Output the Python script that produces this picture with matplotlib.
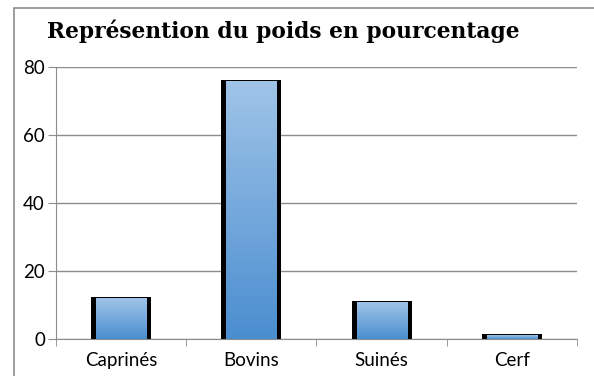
import numpy as np
import matplotlib.pyplot as plt
from matplotlib.patches import Rectangle
from matplotlib.colors import LinearSegmentedColormap

# poids par espèce, en pourcentage
especes = ['Caprinés', 'Bovins', 'Suinés', 'Cerf']
poids = [12.4, 76.2, 11.2, 1.4]
yticks = [0, 20, 40, 60, 80]

plt.rcParams['font.family'] = ['Lato', 'DejaVu Sans']

fig = plt.figure(figsize=(5.94, 3.76), dpi=100)
ax = fig.add_axes([0.0943, 0.0984, 0.877, 0.7234])

# cadre gris autour du graphique
fig.patches.append(Rectangle((0.0236, -0.05), 1.2, 1.03, transform=fig.transFigure,
                             fill=False, edgecolor='#8c8c8c', linewidth=1.2))

x = np.arange(len(especes))
largeur = 0.46

# dégradé vertical : clair en haut, plus foncé en bas
grad = np.linspace(0, 1, 256).reshape(-1, 1)
cmap = LinearSegmentedColormap.from_list('bleu', ['#4a8ed0', '#a0c4e8'])

# bords noirs des barres, puis le dégradé par-dessus
ax.bar(x, poids, width=largeur, color='black', zorder=2)
for xi, h in zip(x, poids):
    m = 0.038
    ax.imshow(grad, extent=(xi - largeur / 2 + m, xi + largeur / 2 - m, 0, h - 0.35),
              origin='lower', cmap=cmap, aspect='auto', zorder=3)

ax.set_xlim(-0.5, len(especes) - 0.5)
ax.set_ylim(0, 80)
ax.set_yticks(yticks)
ax.yaxis.grid(True, color='#8c8c8c', linewidth=1.0)
ax.set_axisbelow(True)

ax.set_xticks(x)
ax.set_xticklabels(especes)
ax.set_xticks(np.arange(len(especes) + 1) - 0.5, minor=True)
ax.tick_params(axis='x', which='major', length=0, pad=9, labelsize=13.5)
ax.tick_params(axis='x', which='minor', length=5, color='#8c8c8c')
ax.tick_params(axis='y', length=6, color='#8c8c8c', labelsize=13.5, pad=2)

for s in ['top', 'right']:
    ax.spines[s].set_visible(False)
for s in ['left', 'bottom']:
    ax.spines[s].set_color('#8c8c8c')

fig.text(0.079, 0.918, 'Représention du poids en pourcentage', fontsize=15.7,
         fontweight='bold', family='DejaVu Serif', va='center', ha='left')

fig.savefig('out.png', dpi=100)
